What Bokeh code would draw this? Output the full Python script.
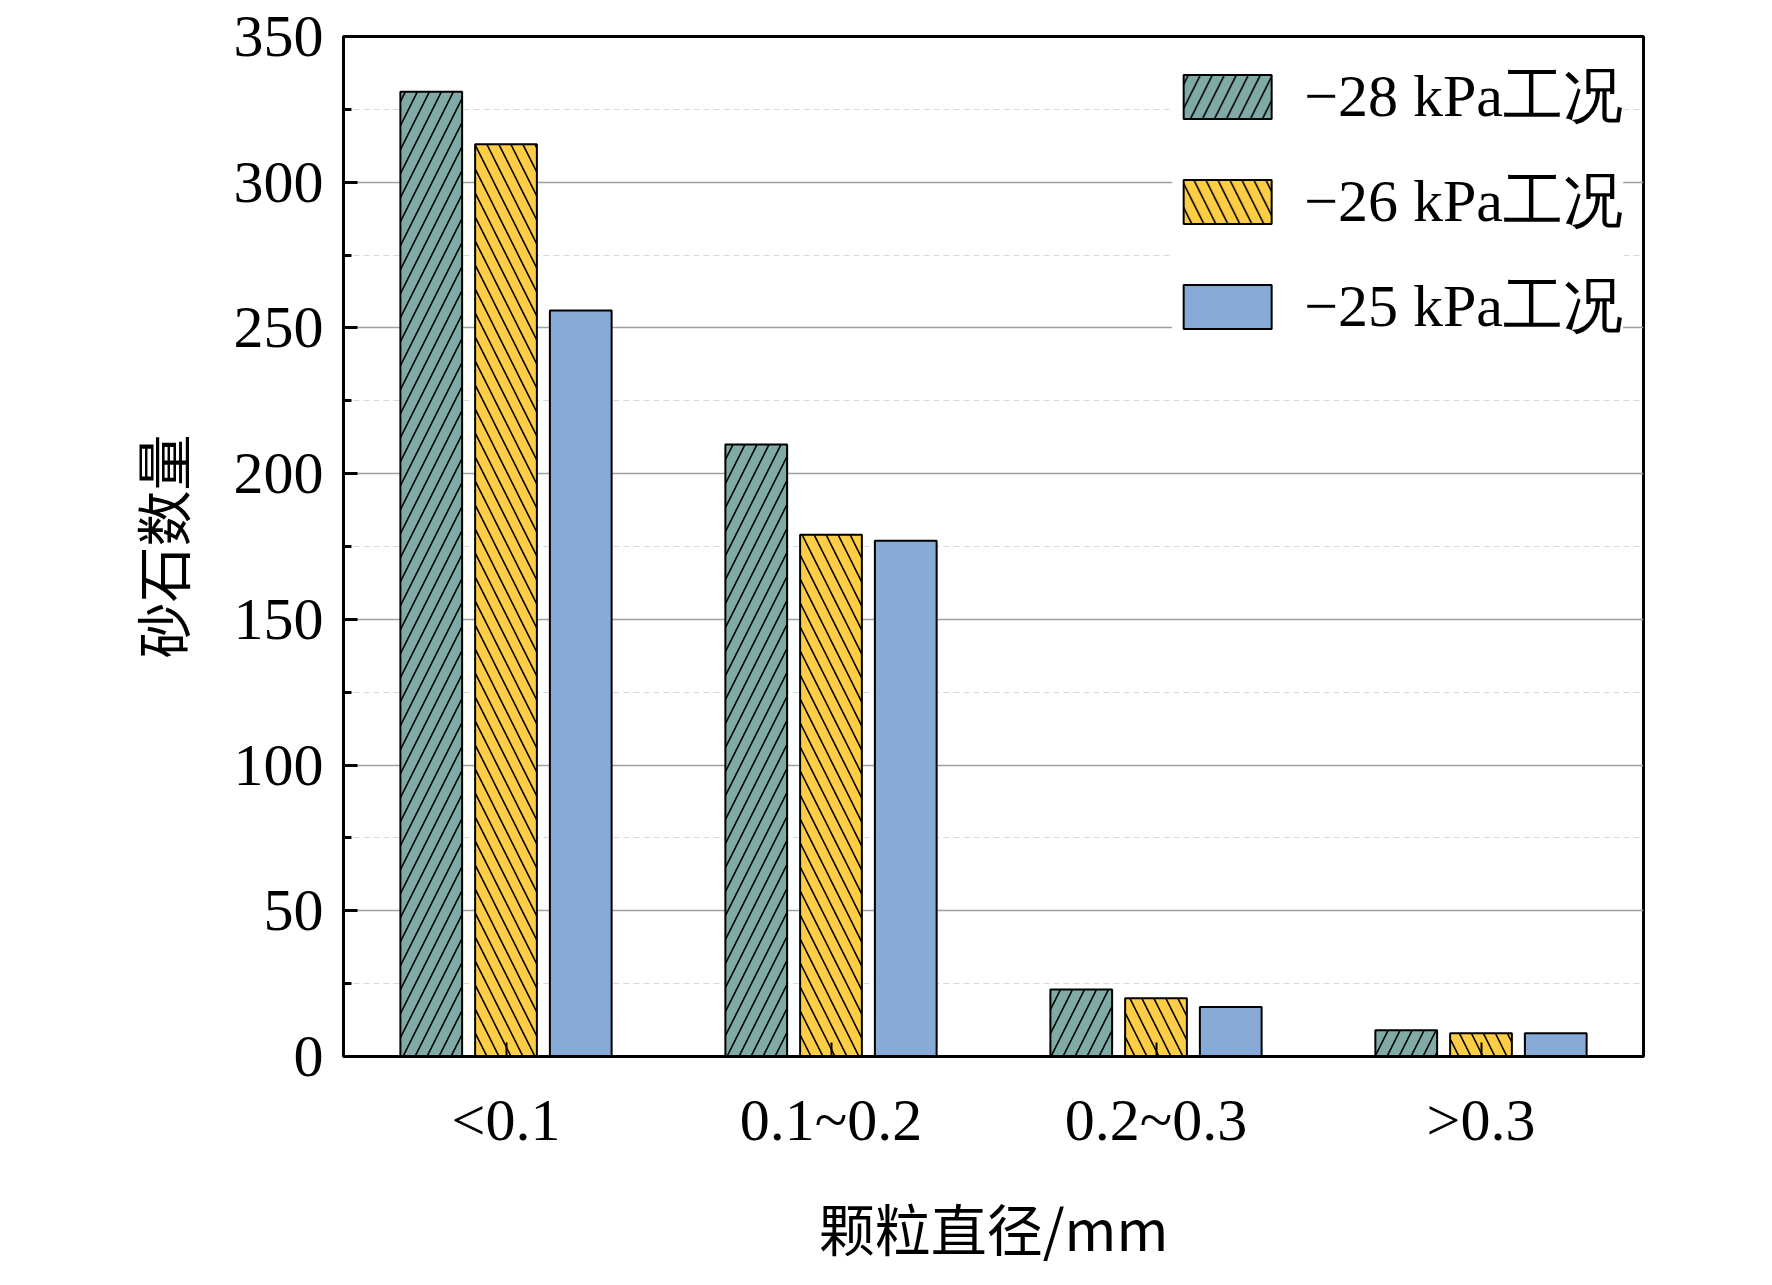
from bokeh.plotting import figure
from bokeh.models import FactorRange, Legend, LegendItem, SingleIntervalTicker
from bokeh.transform import dodge
from bokeh.embed import file_html
from bokeh.resources import INLINE

categories = ["<0.1", "0.1~0.2", "0.2~0.3", ">0.3"]
series_names = ["\u221228 kPa工况", "\u221226 kPa工况", "\u221225 kPa工况"]
v28 = [331, 210, 23, 9]
v26 = [313, 179, 20, 8]
v25 = [256, 177, 17, 8]
colors = ["#80aaa6", "#fdcd45", "#87abd6"]
hatches = ["/", "\\", " "]

p = figure(x_range=FactorRange(*categories, range_padding=0), y_range=(0, 350),
           width=1756, height=1269, output_backend="svg", toolbar_location=None,
           min_border_left=343, min_border_right=113, min_border_top=36, min_border_bottom=200)

renderers = []
for vals, off, col, h in zip([v28, v26, v25], [-0.23, 0, 0.23], colors, hatches):
    src = dict(x=categories, top=vals)
    r = p.vbar(x=dodge("x", off, range=p.x_range), top="top", width=0.19, source=src,
               fill_color=col, line_color="black", line_width=2,
               hatch_pattern=h, hatch_color="black", hatch_scale=24, hatch_weight=1.6)
    renderers.append(r)

legend = Legend(items=[LegendItem(label=n, renderers=[r]) for n, r in zip(series_names, renderers)],
                location="top_right", label_text_font="Liberation Serif",
                label_text_font_size="60px", label_text_color="black",
                glyph_width=110, glyph_height=55,
                spacing=24, border_line_color=None, background_fill_alpha=1,
                margin=20, padding=20, label_standoff=22)
p.add_layout(legend)

p.yaxis.ticker = SingleIntervalTicker(interval=50, num_minor_ticks=2)
p.ygrid.grid_line_color = "#a0a0a0"
p.ygrid.grid_line_width = 1.5
p.ygrid.minor_grid_line_color = "#d8d8d8"
p.ygrid.minor_grid_line_dash = "6 4"
p.xgrid.grid_line_color = None

p.outline_line_color = "black"
p.outline_line_width = 3
for ax in (p.xaxis, p.yaxis):
    ax.axis_line_width = 3
    ax.major_label_text_font = "Liberation Serif"
    ax.major_label_text_font_size = "60px"
    ax.axis_label_text_font = "Noto Sans CJK SC"
    ax.axis_label_text_font_size = "56px"
    ax.axis_label_text_font_style = "normal"
    ax.axis_label_text_color = "black"
    ax.major_label_text_color = "black"
p.yaxis.major_tick_in = 14
p.yaxis.major_tick_out = 0
p.yaxis.minor_tick_in = 8
p.yaxis.minor_tick_out = 0
p.yaxis.major_tick_line_width = 3
p.yaxis.minor_tick_line_width = 3
p.xaxis.major_tick_in = 14
p.xaxis.major_tick_out = 0
p.xaxis.major_tick_line_width = 2
p.xaxis.major_label_standoff = 30
p.yaxis.major_label_standoff = 20
p.xaxis.axis_label = "颗粒直径/mm"
p.yaxis.axis_label = "砂石数量"
p.xaxis.axis_label_standoff = 30
p.yaxis.axis_label_standoff = 30

open("out.html", "w").write(file_html(p, INLINE))
